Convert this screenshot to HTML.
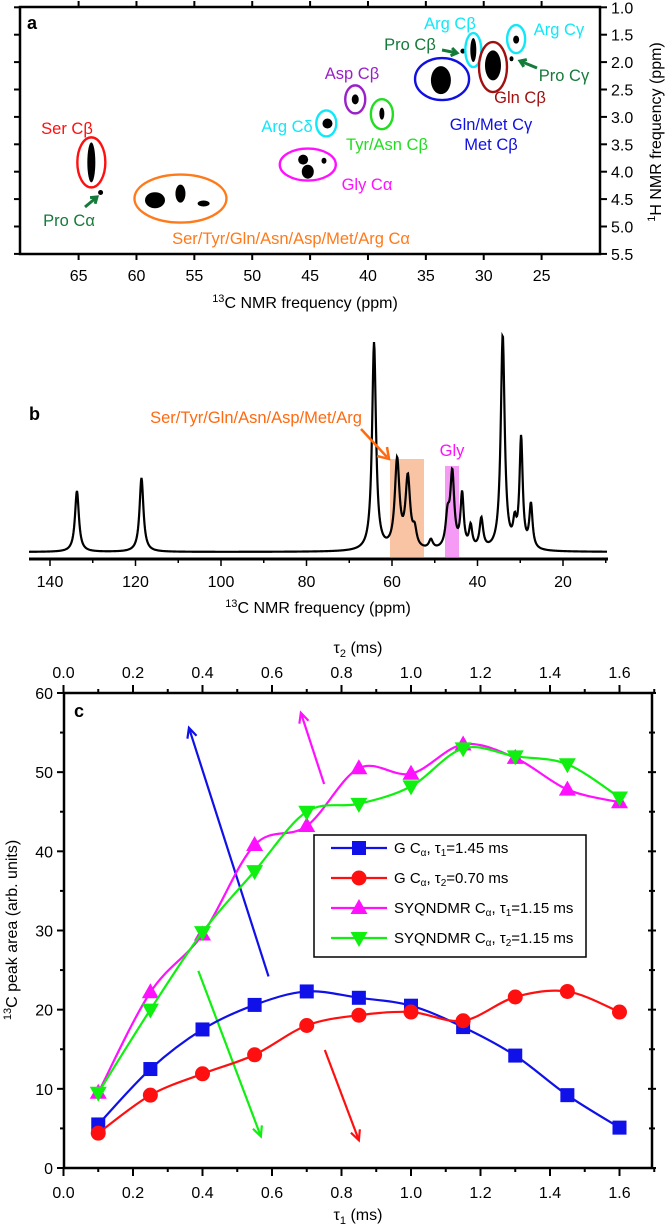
<!DOCTYPE html>
<html><head><meta charset="utf-8"><style>
html,body{margin:0;padding:0;background:#fff}
svg{display:block;font-family:"Liberation Sans",sans-serif}
</style></head><body>
<svg width="666" height="1224" viewBox="0 0 666 1224">
<g id="pa"></g>
<g id="pb"></g>
<g id="pc"></g>
</svg>
<script>
const NS="http://www.w3.org/2000/svg";
function mk(p,t,a,txt){const e=document.createElementNS(NS,t);for(const k in a)e.setAttribute(k,a[k]);if(txt!==undefined)e.textContent=txt;p.appendChild(e);return e;}

/* ---------- Panel a data ---------- */
const aXTicks=[65,60,55,50,45,40,35,30,25];
const aYTicks=[1.0,1.5,2.0,2.5,3.0,3.5,4.0,4.5,5.0,5.5];
const aCircleC=[63.9,56.2,45.2,43.6,41.1,38.8,33.6,30.9,29.2,27.2];
const aCircleH=[3.83,4.49,3.87,3.12,2.68,2.95,2.31,1.78,2.09,1.58];
const aCircleColor=["#ff1010","#ff7a1a","#ff10ff","#10e8f8","#9a20c8","#22dd22","#1010e0","#10e8f8","#a01010","#10e8f8"];
const aCircleRx=[14,46,28,10,10,11,27,8,14,9];
const aCircleRy=[25,24,16,13,14,15,21,17,25,14];
const aBlobC=[63.9,58.4,56.2,54.2,45.6,45.2,43.8,43.5,41.1,38.8,33.7,30.9,29.2,27.2,63.1,31.8,27.6];
const aBlobH=[3.83,4.52,4.40,4.58,3.78,4.0,3.80,3.12,2.68,2.94,2.33,1.78,2.06,1.59,4.38,1.80,1.94];
const aBlobRx=[4,10,5,6,5,6,2.5,5,3.5,2.5,10,3,8,3,2.5,2.5,2];
const aBlobRy=[20,8,9,3,5,7,3,5,5,6,14,12,15,4,2.5,2.5,2.5];
const aLabels=[["Ser Cβ",67,134,"#ff1010"],["Pro Cα",69,226,"#157a3a"],["Ser/Tyr/Gln/Asn/Asp/Met/Arg Cα",291,244,"#ff7a1a"],["Gly Cα",367,190,"#ff10ff"],["Arg Cδ",287,132,"#10e8f8"],["Asp Cβ",352,79,"#9a20c8"],["Tyr/Asn Cβ",387,150,"#22dd22"],["Gln/Met Cγ",491,130,"#1010e0"],["Met Cβ",491,150,"#1010e0"],["Gln Cβ",520,103,"#a01010"],["Pro Cγ",564,81,"#157a3a"],["Arg Cγ",559,35,"#10e8f8"],["Arg Cβ",450,29,"#10e8f8"],["Pro Cβ",410,50,"#157a3a"]];
(function(){
const g=document.getElementById('pa');
const X=p=>78.6+(65-p)*11.575, Y=h=>7.3+(h-1)*54.8;
const fr=mk(g,'rect',{x:20,y:7,width:580,height:247,fill:'none',stroke:'#000','stroke-width':2.5});

aXTicks.forEach(t=>{const x=X(t);
 mk(g,'line',{x1:x,x2:x,y1:254,y2:260,stroke:'#000','stroke-width':2});
 mk(g,'line',{x1:x,x2:x,y1:1,y2:7,stroke:'#000','stroke-width':2});
 const tl=mk(g,'text',{x:x,y:281,'font-size':16,'text-anchor':'middle'},String(t));
 });
aYTicks.forEach(t=>{const y=Y(t);
 mk(g,'line',{x1:600,x2:607,y1:y,y2:y,stroke:'#000','stroke-width':2});
 mk(g,'line',{x1:14,x2:20,y1:y,y2:y,stroke:'#000','stroke-width':2});
 const tl=mk(g,'text',{x:611,y:y+6,'font-size':16},t.toFixed(1));
 });
const xt=mk(g,'text',{x:305,y:308,'font-size':16,'text-anchor':'middle'});
xt.innerHTML='<tspan font-size="11" dy="-6">13</tspan><tspan dy="6">C NMR frequency (ppm)</tspan>';

const yt=mk(g,'text',{x:0,y:0,'font-size':16,'text-anchor':'middle',transform:'translate(661,132) rotate(-90)'});
yt.innerHTML='<tspan font-size="11" dy="-6">1</tspan><tspan dy="6">H NMR frequency (ppm)</tspan>';

const la=mk(g,'text',{x:27,y:29,'font-size':18,'font-weight':'bold'},'a');

aBlobC.forEach((c,i)=>{const b=mk(g,'ellipse',{cx:X(c),cy:Y(aBlobH[i]),rx:aBlobRx[i],ry:aBlobRy[i],fill:'#000'});
 });
aCircleC.forEach((c,i)=>{const e=mk(g,'ellipse',{cx:X(c),cy:Y(aCircleH[i]),rx:aCircleRx[i],ry:aCircleRy[i],fill:'none',stroke:aCircleColor[i],'stroke-width':2.4});
 });
aLabels.forEach(l=>{const t=mk(g,'text',{x:l[1],y:l[2],'font-size':16.5,'text-anchor':'middle',fill:l[3]},l[0]);
 });
[[85,207,97,197],[537,68,520,61],[442,50,457,53]].forEach(a=>{
 mk(g,'line',{x1:a[0],y1:a[1],x2:a[2],y2:a[3],stroke:'#157a3a','stroke-width':3});
 const ang=Math.atan2(a[3]-a[1],a[2]-a[0]),L=7;
 const p=[[a[2],a[3]],[a[2]-L*Math.cos(ang-0.6),a[3]-L*Math.sin(ang-0.6)],[a[2]-L*Math.cos(ang+0.6),a[3]-L*Math.sin(ang+0.6)]];
 const ar=mk(g,'polyline',{points:[p[1],p[0],p[2]].map(q=>q.join(',')).join(' '),fill:'none',stroke:'#157a3a','stroke-width':3});
 });
})();

/* ---------- Panel b data ---------- */
const bTicks=[140,120,100,80,60,40,20];
const bPeakPpm=[133.7,118.6,64.2,58.8,56.3,54.7,50.9,47.0,45.9,43.6,41.6,39.1,34.1,31.3,29.8,27.5];
const bPeakHeight=[61,74,208,88,70,16,9,30,74,54,22,30,215,22,110,44];
const bPeakWidth=[0.55,0.55,0.55,0.65,0.65,0.55,0.55,0.55,0.55,0.45,0.45,0.5,0.55,0.45,0.45,0.45];
(function(){
const g=document.getElementById('pb');
const X=p=>50+(140-p)*4.275, base=552;
const o=mk(g,'rect',{x:390,y:459,width:34,height:98,fill:'#f8c4a4'});

const m=mk(g,'rect',{x:445,y:466,width:14,height:91,fill:'#f59af5'});

let d='';
for(let px=29;px<=607;px+=0.5){const p=140-(px-50)/4.275;let s=0;
 bPeakPpm.forEach((c,i)=>{const w=bPeakWidth[i];s+=bPeakHeight[i]*w*w/((p-c)*(p-c)+w*w);});
 d+=(d?'L':'M')+px.toFixed(1)+','+(base-s).toFixed(2);}
const sp=mk(g,'path',{d:d,fill:'none',stroke:'#000','stroke-width':2.2});

mk(g,'line',{x1:29,x2:608,y1:559,y2:559,stroke:'#000','stroke-width':3});
for(let t=140;t>=10;t-=10){const x=X(t);if(x<29)continue;
 mk(g,'line',{x1:x,x2:x,y1:559,y2:t%20===0?566:563,stroke:'#000','stroke-width':1.5});}
bTicks.forEach(t=>{const tl=mk(g,'text',{x:X(t),y:587,'font-size':16,'text-anchor':'middle'},String(t));
 });
const xt=mk(g,'text',{x:318,y:613,'font-size':16,'text-anchor':'middle'});
xt.innerHTML='<tspan font-size="11" dy="-6">13</tspan><tspan dy="6">C NMR frequency (ppm)</tspan>';

const lb=mk(g,'text',{x:29,y:420,'font-size':18,'font-weight':'bold'},'b');

const t1=mk(g,'text',{x:256,y:423,'font-size':16.5,'text-anchor':'middle',fill:'#ff6a10'},'Ser/Tyr/Gln/Asn/Asp/Met/Arg');

mk(g,'line',{x1:361,y1:429,x2:387,y2:457,stroke:'#ff6a10','stroke-width':2.5});
mk(g,'polyline',{points:'377,456 389,459 387,447',fill:'none',stroke:'#ff6a10','stroke-width':2.5});
const t2=mk(g,'text',{x:452,y:456,'font-size':16.5,'text-anchor':'middle',fill:'#ff10ff'},'Gly');

})();

/* ---------- Panel c data ---------- */
const cTau=[0.1,0.25,0.4,0.55,0.7,0.85,1.0,1.15,1.3,1.45,1.6];
const cBlue=[5.5,12.5,17.5,20.6,22.3,21.5,20.5,17.8,14.2,9.2,5.1];
const cRed=[4.4,9.2,11.9,14.3,18.0,19.3,19.7,18.6,21.6,22.3,19.7];
const cMagenta=[9.5,22.2,29.5,40.8,43.2,50.5,49.8,53.5,51.8,47.8,46.2];
const cGreen=[9.5,20.0,29.8,37.5,45.0,46.0,48.2,53.0,52.0,51.0,46.8];
const cXTicks=[0.0,0.2,0.4,0.6,0.8,1.0,1.2,1.4,1.6];
const cYTicks=[0,10,20,30,40,50,60];
const cLegend=['G C<tspan font-size="10" dy="3">α</tspan><tspan dy="-3">, τ</tspan><tspan font-size="10" dy="3">1</tspan><tspan dy="-3">=1.45 ms</tspan>',
 'G C<tspan font-size="10" dy="3">α</tspan><tspan dy="-3">, τ</tspan><tspan font-size="10" dy="3">2</tspan><tspan dy="-3">=0.70 ms</tspan>',
 'SYQNDMR C<tspan font-size="10" dy="3">α</tspan><tspan dy="-3">, τ</tspan><tspan font-size="10" dy="3">1</tspan><tspan dy="-3">=1.15 ms</tspan>',
 'SYQNDMR C<tspan font-size="10" dy="3">α</tspan><tspan dy="-3">, τ</tspan><tspan font-size="10" dy="3">2</tspan><tspan dy="-3">=1.15 ms</tspan>'];
const cArrowStart=[[0.59,24.2],[0.75,48.5],[0.388,24.9],[0.752,14.9]];
const cArrowEnd=[[0.361,55.6],[0.683,57.5],[0.568,4.0],[0.85,3.5]];
(function(){
const g=document.getElementById('pc');
const X=v=>63.5+v*347.5, Y=v=>1168-v*7.917;
const L=64,R=652,T=693,B=1168;
const fr=mk(g,'rect',{x:L,y:T,width:R-L,height:B-T,fill:'none',stroke:'#000','stroke-width':2.5});

for(let i=0;i<=17;i++){const x=X(i*0.1),maj=i%2===0;
 mk(g,'line',{x1:x,x2:x,y1:B,y2:B+(maj?8:4),stroke:'#000','stroke-width':2});
 mk(g,'line',{x1:x,x2:x,y1:T,y2:T-(maj?8:4),stroke:'#000','stroke-width':2});}
for(let v=0;v<=60;v+=5){const y=Y(v),maj=v%10===0;
 mk(g,'line',{x1:L-(maj?7:4),x2:L,y1:y,y2:y,stroke:'#000','stroke-width':2});
 mk(g,'line',{x1:R-(maj?4:3),x2:R+(maj?4:3),y1:y,y2:y,stroke:'#000','stroke-width':2});}
cXTicks.forEach(t=>{
 const a=mk(g,'text',{x:X(t),y:1198,'font-size':16,'text-anchor':'middle'},t.toFixed(1));
 
 const b=mk(g,'text',{x:X(t),y:678,'font-size':16,'text-anchor':'middle'},t.toFixed(1));
 });
cYTicks.forEach(t=>{const a=mk(g,'text',{x:53,y:Y(t)+6,'font-size':16,'text-anchor':'end'},String(t));
 });
const xt=mk(g,'text',{x:358,y:1220,'font-size':16,'text-anchor':'middle'});
xt.innerHTML='τ<tspan font-size="11" dy="4">1</tspan><tspan dy="-4"> (ms)</tspan>';

const tt=mk(g,'text',{x:358,y:653,'font-size':16,'text-anchor':'middle'});
tt.innerHTML='τ<tspan font-size="11" dy="4">2</tspan><tspan dy="-4"> (ms)</tspan>';

const yt=mk(g,'text',{x:0,y:0,'font-size':16,'text-anchor':'middle',transform:'translate(17,930) rotate(-90)'});
yt.innerHTML='<tspan font-size="11" dy="-6">13</tspan><tspan dy="6">C peak area (arb. units)</tspan>';

const lc=mk(g,'text',{x:74,y:717,'font-size':18,'font-weight':'bold'},'c');

const cols=['#1010e8','#ff1010','#ff10ff','#10f010'];
function smooth(pts){let d='M'+pts[0][0]+','+pts[0][1];
 for(let i=0;i<pts.length-1;i++){const p0=pts[i-1]||pts[i],p1=pts[i],p2=pts[i+1],p3=pts[i+2]||p2;
  const c1=[p1[0]+(p2[0]-p0[0])/6,p1[1]+(p2[1]-p0[1])/6],c2=[p2[0]-(p3[0]-p1[0])/6,p2[1]-(p3[1]-p1[1])/6];
  d+='C'+c1.join(',')+' '+c2.join(',')+' '+p2.join(',');}return d;}
function marker(parent,k,x,y,c){let e;
 if(k===0)e=mk(parent,'rect',{x:x-7,y:y-7,width:14,height:14,fill:c});
 else if(k===1)e=mk(parent,'circle',{cx:x,cy:y,r:7.5,fill:c});
 else if(k===2)e=mk(parent,'polygon',{points:`${x},${y-9} ${x+8.5},${y+6} ${x-8.5},${y+6}`,fill:c});
 else e=mk(parent,'polygon',{points:`${x},${y+9} ${x+8.5},${y-6} ${x-8.5},${y-6}`,fill:c});
 return e;}
cArrowStart.forEach((s,i)=>{const c=['#1010e8','#ff10ff','#10f010','#ff1010'][i];
 const x1=X(s[0]),y1=Y(s[1]),x2=X(cArrowEnd[i][0]),y2=Y(cArrowEnd[i][1]);
 const ln=mk(g,'line',{x1:x1,y1:y1,x2:x2,y2:y2,stroke:c,'stroke-width':2.2});
 
 const ang=Math.atan2(y2-y1,x2-x1),h=11;
 mk(g,'polyline',{points:`${x2-h*Math.cos(ang-0.45)},${y2-h*Math.sin(ang-0.45)} ${x2},${y2} ${x2-h*Math.cos(ang+0.45)},${y2-h*Math.sin(ang+0.45)}`,fill:'none',stroke:c,'stroke-width':2.2});});
[cBlue,cRed,cMagenta,cGreen].forEach((s,k)=>{
 const sg=mk(g,'g',{});
 
 
 const pts=cTau.map((t,i)=>[X(t),Y(s[i])]);
 mk(sg,'path',{d:smooth(pts),fill:'none',stroke:cols[k],'stroke-width':2.2});
 pts.forEach(p=>{const m=marker(sg,k,p[0],p[1],cols[k]);
  });});
const lg=mk(g,'g',{});

mk(lg,'rect',{x:314,y:835,width:272,height:122,fill:'#fff',stroke:'#000','stroke-width':1.5});
cLegend.forEach((txt,k)=>{const y=848+k*30;
 const en=mk(lg,'g',{});
 
 mk(en,'line',{x1:331,x2:387,y1:y,y2:y,stroke:cols[k],'stroke-width':2.2});
 marker(en,k,359,y,cols[k]);
 const t=mk(en,'text',{x:394,y:y+5,'font-size':15});t.innerHTML=txt;});
})();
</script>
</body></html>
